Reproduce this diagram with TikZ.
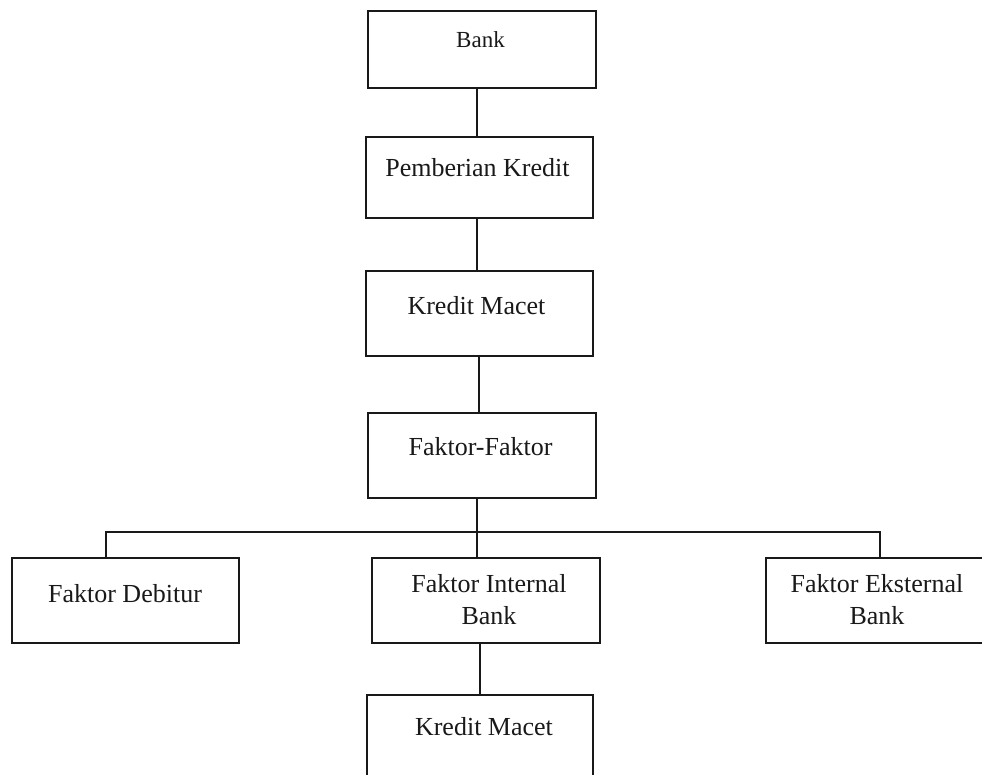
\documentclass[tikz,border=0pt]{standalone}
\usepackage{fontspec}
\setmainfont{Liberation Serif}
\begin{document}
\begin{tikzpicture}[x=1pt,y=-1pt,
  box/.style={draw=black!90, line width=2pt, rectangle, inner sep=0pt, minimum width=227pt, minimum height=85pt},
  lbl/.style={inner sep=0pt, font=\fontsize{26}{32}\selectfont, text=black!90, align=center},
  conn/.style={draw=black!90, line width=2pt}]
\useasboundingbox (0,0) rectangle (982,775);
\clip (0,0) rectangle (982,775);
% boxes
\node[box, minimum width=228pt, minimum height=77pt] (bank) at (482,49.5) {};
\node[box, minimum height=81pt] (pemb) at (479.5,177.5) {};
\node[box] (km1) at (479.5,313.5) {};
\node[box, minimum width=228pt] (ff) at (482,455.5) {};
\node[box] (deb) at (125.5,600.5) {};
\node[box, minimum width=228pt] (int) at (486,600.5) {};
\node[box, minimum width=224pt] (eks) at (878,600.5) {};
\node[box, minimum width=226pt] (km2) at (480,737.5) {};
% texts
\node[lbl, anchor=base, font=\fontsize{23}{28}\selectfont] (tbank) at (480.5,48) {Bank};
\node[lbl, anchor=base] (tpemb) at (477.5,177) {Pemberian Kredit};
\node[lbl, anchor=base] (tkm1) at (476.5,315) {Kredit Macet};
\node[lbl, anchor=base] (tff) at (480.5,455) {Faktor-Faktor};
\node[lbl, anchor=base] (tdeb) at (125,602) {Faktor Debitur};
\node[lbl] (tint) at (489,600) {Faktor Internal\\Bank};
\node[lbl] (teks) at (877,600) {Faktor Eksternal\\Bank};
\node[lbl, anchor=base] (tkm2) at (484,735) {Kredit Macet};
% connector guides
\coordinate (xa) at (477,0);
\coordinate (xb) at (479,0);
\coordinate (xc) at (480,0);
\coordinate (xd) at (106,0);
\coordinate (xe) at (880,0);
\coordinate (bus) at (0,532);
% connectors
\draw[conn] (bank.south -| xa) -- (pemb.north -| xa);
\draw[conn] (pemb.south -| xa) -- (km1.north -| xa);
\draw[conn] (km1.south -| xb) -- (ff.north -| xb);
\draw[conn] (ff.south -| xa) -- (int.north -| xa);
\draw[conn] (deb.north -| xd) -- (bus -| xd) -- (bus -| xe) -- (eks.north -| xe);
\draw[conn] (int.south -| xc) -- (km2.north -| xc);
\end{tikzpicture}
\end{document}
